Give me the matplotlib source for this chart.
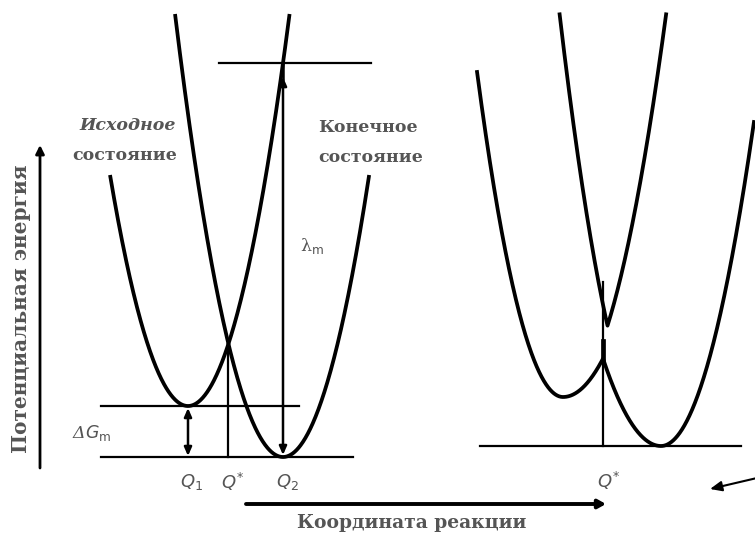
import numpy as np
import matplotlib
matplotlib.use("Agg")
import matplotlib.pyplot as plt

# ---------------- data (diagram units: px-like reaction coordinate / energy) ----
# Left panel: diabatic (non-adiabatic) parabolas
L_Q = [188, 283]          # Q1, Q2 minima positions
L_G = [51, 0]             # minima energies (ΔG between them)
L_k = 0.038               # curvature
L_base = 457              # baseline level on the page
L_outer_top = 282         # energy where outer branches stop
L_inner_top = 443         # energy where inner branches stop

# Right panel: adiabatic surfaces (lower and upper), built from two wells
R_Q = [563, 661]
R_G = [49, 0]
R_k_lower_1 = [0.044, 0.024]   # initial well: outer (left), inner (right) curvature
R_k_lower_2 = [0.026, 0.0375]  # final well: inner (left), outer (right) curvature
R_k_upper = [0.036, 0.042]     # upper surface: initial-well right side, final-well left side
R_base = 446
R_left_top = 374
R_right_top = 324
R_upper_top = 432
R_qstar_top = 164

labels_q_left = ["$Q_1$", "$Q^{*}$", "$Q_2$"]
label_q_right = "$Q^{*}$"
txt_initial = ["Исходное", "состояние"]
txt_final = ["Конечное", "состояние"]
txt_lambda = "λ$_{\\mathrm{m}}$"
txt_dG = "Δ$G_{\\mathrm{m}}$"
ylabel = "Потенциальная энергия"
xlabel = "Координата реакции"

# ---------------------------------------------------------------------------
W, H = 755, 535
fig = plt.figure(figsize=(W / 100, H / 100), dpi=100)
ax = fig.add_axes([0, 0, 1, 1])
ax.set_xlim(0, W)
ax.set_ylim(H, 0)
ax.axis("off")

LW = 2.7
TC = "#555555"
FONT = "DejaVu Serif"


def U(x, q, g, k):
    return g + k * (x - q) ** 2


def U2k(x, q, g, kl, kr):
    return g + np.where(x < q, kl, kr) * (x - q) ** 2


# ---- left panel ----
y = lambda E: L_base - E
q1, q2 = L_Q
g1, g2 = L_G
x1 = np.linspace(q1 - np.sqrt((L_outer_top - g1) / L_k), q1 + np.sqrt((L_inner_top - g1) / L_k), 400)
x2 = np.linspace(q2 - np.sqrt((L_inner_top - g2) / L_k), q2 + np.sqrt((L_outer_top - g2) / L_k), 400)
ax.plot(x1, y(U(x1, q1, g1, L_k)), color="k", lw=LW, solid_capstyle="butt")
ax.plot(x2, y(U(x2, q2, g2, L_k)), color="k", lw=LW, solid_capstyle="butt")

# crossing point
xc = (L_k * (q2 ** 2 - q1 ** 2) - (g1 - g2)) / (2 * L_k * (q2 - q1))
Ec = U(xc, q1, g1, L_k)
lam_top = U(q2, q1, g1, L_k)

ax.plot([101, 353], [y(0), y(0)], color="k", lw=1.6)
ax.plot([101, 299], [y(g1), y(g1)], color="k", lw=1.6)
ax.plot([219, 371], [y(lam_top), y(lam_top)], color="k", lw=1.6)
ax.plot([xc, xc], [y(0), y(Ec)], color="k", lw=1.6)

arr = dict(arrowstyle="<|-|>,head_length=0.5,head_width=0.22", color="k", lw=1.8,
           shrinkA=0, shrinkB=0)
ax.annotate("", xy=(q1, y(g1) + 2), xytext=(q1, y(0) - 1), arrowprops=arr)
ax.annotate("", xy=(q2, y(lam_top) + 14), xytext=(q2, y(0) - 2), arrowprops=arr)
ax.plot([q2, q2], [y(lam_top), y(lam_top) + 16], color="k", lw=1.8)

# labels
kw = dict(family=FONT, color=TC, fontsize=12.5, fontweight="bold")
ax.text(176, 125, txt_initial[0], ha="right", va="center", style="italic", **kw)
ax.text(177, 155, txt_initial[1], ha="right", va="center", **kw)
ax.text(318, 128, txt_final[0], ha="left", va="center", **kw)
ax.text(318, 157, txt_final[1], ha="left", va="center", **kw)
ax.text(300, 246, txt_lambda, ha="left", va="center", family=FONT, color=TC, fontsize=12.5)
ax.text(72, 433, txt_dG, ha="left", va="center", style="italic", family=FONT, color=TC, fontsize=12.5)

for xq, s in zip([q1, xc, q2], labels_q_left):
    ax.text(xq + 4, 482, s, ha="center", va="center", family=FONT, color=TC, fontsize=13)

# ---- right panel ----
yR = lambda E: R_base - E
p1, p2 = R_Q
h1, h2 = R_G
xa = p1 - np.sqrt((R_left_top - h1) / R_k_lower_1[0])
xb = p2 + np.sqrt((R_right_top - h2) / R_k_lower_2[1])
xs = np.linspace(xa, xb, 3000)
Ua = U2k(xs, p1, h1, *R_k_lower_1)
Ub = U2k(xs, p2, h2, *R_k_lower_2)
E_low = np.minimum(Ua, Ub)
ax.plot(xs, yR(E_low), color="k", lw=LW)

xu = np.linspace(p1 - 40, p2 + 40, 3000)
Ua_u = U(xu, p1, h1, R_k_upper[0])
Ub_u = U(xu, p2, h2, R_k_upper[1])
E_up = np.maximum(Ua_u, Ub_u)
m = E_up <= R_upper_top
ax.plot(xu[m], yR(E_up[m]), color="k", lw=LW)

mid = (xs > p1) & (xs < p2)
i = np.argmin(np.abs(Ua[mid] - Ub[mid]))
xcR = xs[mid][i]
EcR = E_low[mid][i]
ax.plot([480, 741], [yR(0), yR(0)], color="k", lw=1.6)
ax.plot([xcR, xcR], [yR(0), yR(R_qstar_top)], color="k", lw=1.6)
ax.plot([xcR, xcR], [yR(EcR), yR(EcR) - 18], color="k", lw=3.4)
ax.text(xcR + 6, 481, label_q_right, ha="center", va="center", family=FONT, color=TC, fontsize=13)

# ---- axes arrows ----
ax.annotate("", xy=(40, 145), xytext=(40, 468),
            arrowprops=dict(arrowstyle="-|>,head_length=0.5,head_width=0.25", color="k", lw=2,
                            shrinkA=0, shrinkB=0))
ax.annotate("", xy=(606, 504), xytext=(246, 504),
            arrowprops=dict(arrowstyle="-|>,head_length=0.45,head_width=0.25", color="k", lw=2.8,
                            shrinkA=0, shrinkB=0))
ax.annotate("", xy=(710, 489), xytext=(757, 478),
            arrowprops=dict(arrowstyle="-|>,head_length=0.7,head_width=0.3", color="k", lw=1.5,
                            shrinkA=0, shrinkB=0))

ax.text(21, 309, ylabel, rotation=90, ha="center", va="center", family=FONT, color=TC,
        fontsize=14.5, fontweight="bold")
ax.text(412, 523, xlabel, ha="center", va="center", family=FONT, color=TC, fontsize=13.5,
        fontweight="bold")

fig.savefig("out.png", dpi=100)
